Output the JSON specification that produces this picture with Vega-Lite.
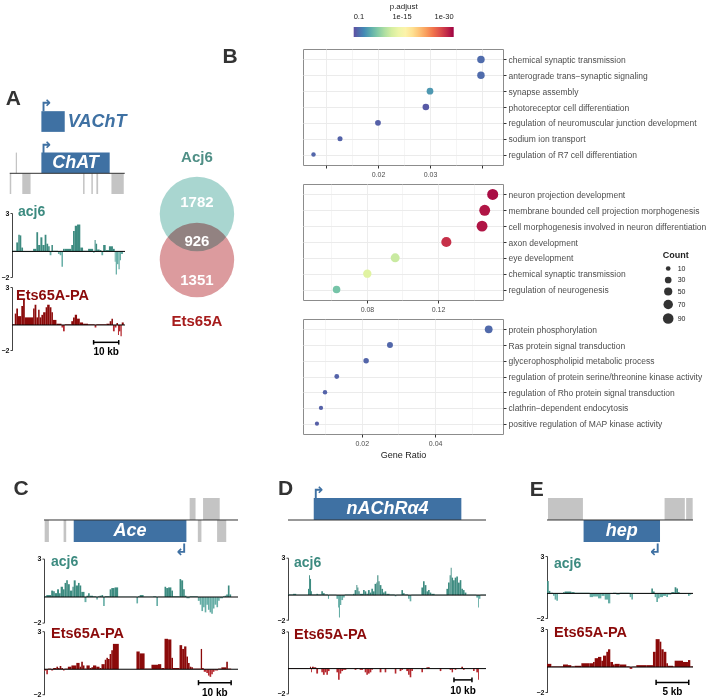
{
"$schema": "https://vega.github.io/schema/vega-lite/v6.json",
"padding": {"left": 1, "top": 3, "right": 0, "bottom": 0},
"background": "white",
"config": {
 "font": "Liberation Sans",
 "view": {"stroke": null},
 "axisLeft": {"labelFontSize": 7, "labelFontWeight": "bold", "labelColor": "#111", "tickSize": 2, "tickColor": "#444", "domainColor": "#444", "labelPadding": 1, "grid": false},
 "axisRight": {"labelFontSize": 8.5, "labelColor": "#4d4d4d", "tickSize": 3, "tickColor": "#333", "domain": false, "grid": true, "gridColor": "#ebebeb", "labelPadding": 2, "labelLimit": 300},
 "axisBottom": {"labelFontSize": 7, "labelColor": "#4d4d4d", "tickSize": 3, "tickColor": "#333", "domain": false, "grid": true, "gridColor": "#ebebeb", "labelPadding": 2}
},
"datasets": {
 "go": [
  {"cluster": "Acj6", "term": "chemical synaptic transmission", "GeneRatio": 0.0398, "Count": 40, "padj": 0.0035},
  {"cluster": "Acj6", "term": "anterograde trans−synaptic signaling", "GeneRatio": 0.0398, "Count": 40, "padj": 0.0035},
  {"cluster": "Acj6", "term": "synapse assembly", "GeneRatio": 0.0300, "Count": 30, "padj": 0.000016},
  {"cluster": "Acj6", "term": "photoreceptor cell differentiation", "GeneRatio": 0.0292, "Count": 29, "padj": 0.026},
  {"cluster": "Acj6", "term": "regulation of neuromuscular junction development", "GeneRatio": 0.0200, "Count": 20, "padj": 0.013},
  {"cluster": "Acj6", "term": "sodium ion transport", "GeneRatio": 0.0127, "Count": 13, "padj": 0.01},
  {"cluster": "Acj6", "term": "regulation of R7 cell differentiation", "GeneRatio": 0.0076, "Count": 8, "padj": 0.007},
  {"cluster": "shared", "term": "neuron projection development", "GeneRatio": 0.1508, "Count": 98, "padj": 4e-30},
  {"cluster": "shared", "term": "membrane bounded cell projection morphogenesis", "GeneRatio": 0.1463, "Count": 95, "padj": 1e-29},
  {"cluster": "shared", "term": "cell morphogenesis involved in neuron differentiation", "GeneRatio": 0.1448, "Count": 94, "padj": 1e-29},
  {"cluster": "shared", "term": "axon development", "GeneRatio": 0.1247, "Count": 81, "padj": 2e-28},
  {"cluster": "shared", "term": "eye development", "GeneRatio": 0.0959, "Count": 62, "padj": 4e-12},
  {"cluster": "shared", "term": "chemical synaptic transmission", "GeneRatio": 0.0802, "Count": 52, "padj": 2.5e-13},
  {"cluster": "shared", "term": "regulation of neurogenesis", "GeneRatio": 0.0629, "Count": 41, "padj": 4e-8},
  {"cluster": "Ets65A", "term": "protein phosphorylation", "GeneRatio": 0.0546, "Count": 44, "padj": 0.004},
  {"cluster": "Ets65A", "term": "Ras protein signal transduction", "GeneRatio": 0.0277, "Count": 22, "padj": 0.006},
  {"cluster": "Ets65A", "term": "glycerophospholipid metabolic process", "GeneRatio": 0.0212, "Count": 17, "padj": 0.008},
  {"cluster": "Ets65A", "term": "regulation of protein serine/threonine kinase activity", "GeneRatio": 0.0132, "Count": 11, "padj": 0.01},
  {"cluster": "Ets65A", "term": "regulation of Rho protein signal transduction", "GeneRatio": 0.0100, "Count": 8, "padj": 0.01},
  {"cluster": "Ets65A", "term": "clathrin−dependent endocytosis", "GeneRatio": 0.0089, "Count": 7, "padj": 0.012},
  {"cluster": "Ets65A", "term": "positive regulation of MAP kinase activity", "GeneRatio": 0.0078, "Count": 6, "padj": 0.015}
 ],
 "venn": [
  {"region": "Acj6", "label": "Acj6", "count": 1782},
  {"region": "both", "label": "Acj6 and Ets65A", "count": 926},
  {"region": "Ets65A", "label": "Ets65A", "count": 1351}
 ],
 "scalebars": [
  {"panel": "A", "start": 32.5, "end": 42.5, "label": "10 kb"},
  {"panel": "C", "start": 47.3, "end": 57.3, "label": "10 kb"},
  {"panel": "D", "start": 92.2, "end": 102.2, "label": "10 kb"},
  {"panel": "E", "start": 16.7, "end": 21.7, "label": "5 kb"}
 ],
 "genes_A": [
  {"feature": "region", "name": "locus", "lane": "minus", "strand": ".", "start": -0.9, "end": 44.9},
  {"feature": "other", "name": "", "lane": "plus", "strand": "+", "start": 1.5, "end": 2.0},
  {"feature": "other", "name": "", "lane": "minus", "strand": "-", "start": -0.9, "end": -0.3},
  {"feature": "other", "name": "", "lane": "minus", "strand": "-", "start": 4.1, "end": 7.4},
  {"feature": "other", "name": "", "lane": "minus", "strand": "-", "start": 28.3, "end": 28.9},
  {"feature": "other", "name": "", "lane": "minus", "strand": "-", "start": 31.6, "end": 32.2},
  {"feature": "other", "name": "", "lane": "minus", "strand": "-", "start": 33.6, "end": 34.3},
  {"feature": "other", "name": "", "lane": "minus", "strand": "-", "start": 39.6, "end": 44.5},
  {"feature": "gene", "name": "VAChT", "lane": "VAChT", "strand": "+", "start": 11.7, "end": 21.0},
  {"feature": "gene", "name": "ChAT", "lane": "plus", "strand": "+", "start": 11.7, "end": 38.9}
 ],
 "genes_C": [
  {"feature": "region", "name": "locus", "lane": "minus", "strand": ".", "start": 0, "end": 59.4},
  {"feature": "other", "name": "", "lane": "minus", "strand": "-", "start": 0.2, "end": 1.5},
  {"feature": "other", "name": "", "lane": "minus", "strand": "-", "start": 6.0, "end": 6.8},
  {"feature": "other", "name": "", "lane": "minus", "strand": "-", "start": 47.1, "end": 48.2},
  {"feature": "other", "name": "", "lane": "minus", "strand": "-", "start": 53.0, "end": 55.8},
  {"feature": "other", "name": "", "lane": "plus", "strand": "+", "start": 44.6, "end": 46.4},
  {"feature": "other", "name": "", "lane": "plus", "strand": "+", "start": 48.7, "end": 53.8},
  {"feature": "gene", "name": "Ace", "lane": "minus", "strand": "-", "start": 9.1, "end": 43.6}
 ],
 "genes_D": [
  {"feature": "region", "name": "locus", "lane": "minus", "strand": ".", "start": 0, "end": 110},
  {"feature": "gene", "name": "nAChRα4", "lane": "plus", "strand": "+", "start": 14.3, "end": 96.3}
 ],
 "genes_E": [
  {"feature": "region", "name": "locus", "lane": "minus", "strand": ".", "start": 0, "end": 22.35},
  {"feature": "other", "name": "", "lane": "plus", "strand": "+", "start": 0.15, "end": 5.5},
  {"feature": "other", "name": "", "lane": "plus", "strand": "+", "start": 18.0, "end": 21.1},
  {"feature": "other", "name": "", "lane": "plus", "strand": "+", "start": 21.3, "end": 22.3},
  {"feature": "gene", "name": "hep", "lane": "minus", "strand": "-", "start": 5.6, "end": 17.3}
 ],
 "A_acj6": [
  {"start":0.0,"end":1.7,"signal":0.05},{"start":1.7,"end":2.5,"signal":0.7},{"start":2.5,"end":3.1,"signal":1.3},{"start":3.1,"end":3.7,"signal":1.25},{"start":3.7,"end":4.4,"signal":0.3},{"start":4.4,"end":8.4,"signal":-0.05},{"start":8.4,"end":9.7,"signal":0.2},{"start":9.7,"end":10.4,"signal":1.5},{"start":10.4,"end":11.3,"signal":0.5},{"start":11.3,"end":12.1,"signal":1.1},{"start":12.1,"end":13.0,"signal":0.5},{"start":13.0,"end":13.7,"signal":1.3},{"start":13.7,"end":14.4,"signal":0.6},{"start":14.4,"end":15.0,"signal":0.4},{"start":15.0,"end":15.7,"signal":-0.3},{"start":15.7,"end":16.3,"signal":0.5},{"start":16.3,"end":18.3,"signal":0.05},{"start":18.3,"end":19.0,"signal":-0.2},{"start":19.0,"end":19.7,"signal":-0.3},{"start":19.7,"end":20.3,"signal":-1.2},{"start":20.3,"end":21.0,"signal":0.2},{"start":21.0,"end":23.6,"signal":0.2},{"start":23.6,"end":24.3,"signal":0.5},{"start":24.3,"end":25.0,"signal":1.6},{"start":25.0,"end":25.9,"signal":2.0},{"start":25.9,"end":27.2,"signal":2.1},{"start":27.2,"end":28.3,"signal":0.3},{"start":28.3,"end":30.3,"signal":0.05},{"start":30.3,"end":32.3,"signal":0.2},{"start":32.3,"end":32.9,"signal":-0.1},{"start":32.9,"end":33.3,"signal":0.9},{"start":33.3,"end":33.9,"signal":0.6},{"start":33.9,"end":34.9,"signal":0.15},{"start":34.9,"end":35.6,"signal":0.1},{"start":35.6,"end":36.3,"signal":-0.3},{"start":36.3,"end":37.3,"signal":0.5},{"start":37.3,"end":38.6,"signal":0.1},{"start":38.6,"end":40.2,"signal":0.4},{"start":40.2,"end":40.9,"signal":0.2},{"start":40.9,"end":41.3,"signal":-0.8},{"start":41.3,"end":41.8,"signal":-1.8},{"start":41.8,"end":42.4,"signal":-1.0},{"start":42.4,"end":42.9,"signal":-1.4},{"start":42.9,"end":43.4,"signal":-0.7},{"start":43.4,"end":44.2,"signal":-0.2}
 ],
 "A_ets": [
  {"start":0.0,"end":1.1,"signal":0.05},{"start":1.1,"end":1.7,"signal":0.9},{"start":1.7,"end":2.4,"signal":1.3},{"start":2.4,"end":3.7,"signal":0.7},{"start":3.7,"end":4.4,"signal":1.5},{"start":4.4,"end":5.1,"signal":2.0},{"start":5.1,"end":8.4,"signal":0.6},{"start":8.4,"end":9.0,"signal":1.3},{"start":9.0,"end":9.7,"signal":1.6},{"start":9.7,"end":10.4,"signal":0.6},{"start":10.4,"end":11.0,"signal":1.2},{"start":11.0,"end":11.7,"signal":0.6},{"start":11.7,"end":12.4,"signal":0.8},{"start":12.4,"end":13.4,"signal":1.0},{"start":13.4,"end":14.0,"signal":1.4},{"start":14.0,"end":15.0,"signal":1.6},{"start":15.0,"end":15.7,"signal":1.4},{"start":15.7,"end":16.3,"signal":1.0},{"start":16.3,"end":17.7,"signal":0.4},{"start":17.7,"end":19.7,"signal":0.1},{"start":19.7,"end":20.3,"signal":-0.2},{"start":20.3,"end":21.0,"signal":-0.5},{"start":21.0,"end":23.6,"signal":0.05},{"start":23.6,"end":24.3,"signal":0.3},{"start":24.3,"end":25.0,"signal":0.6},{"start":25.0,"end":25.9,"signal":0.8},{"start":25.9,"end":27.0,"signal":0.5},{"start":27.0,"end":28.3,"signal":0.2},{"start":28.3,"end":30.3,"signal":0.1},{"start":30.3,"end":32.9,"signal":0.05},{"start":32.9,"end":33.6,"signal":-0.2},{"start":33.6,"end":37.6,"signal":0.05},{"start":37.6,"end":38.9,"signal":0.1},{"start":38.9,"end":39.6,"signal":0.3},{"start":39.6,"end":40.2,"signal":0.5},{"start":40.2,"end":40.9,"signal":-0.5},{"start":40.9,"end":41.6,"signal":-0.2},{"start":41.6,"end":42.2,"signal":0.15},{"start":42.2,"end":42.6,"signal":-0.8},{"start":42.6,"end":43.2,"signal":-0.5},{"start":43.2,"end":43.7,"signal":-0.9},{"start":43.7,"end":44.5,"signal":0.2}
 ],
 "C_acj6": [
  {"start":0,"end":0.7,"signal":0.05},{"start":0.7,"end":2.2,"signal":0.15},{"start":2.2,"end":2.8,"signal":0.5},{"start":2.8,"end":3.3,"signal":0.45},{"start":3.3,"end":4.0,"signal":0.3},{"start":4.0,"end":4.6,"signal":0.6},{"start":4.6,"end":5.1,"signal":0.3},{"start":5.1,"end":5.8,"signal":0.8},{"start":5.8,"end":6.3,"signal":0.6},{"start":6.3,"end":6.8,"signal":1.1},{"start":6.8,"end":7.3,"signal":1.3},{"start":7.3,"end":7.9,"signal":1.0},{"start":7.9,"end":8.7,"signal":0.5},{"start":8.7,"end":9.1,"signal":0.8},{"start":9.1,"end":9.7,"signal":1.3},{"start":9.7,"end":10.4,"signal":0.9},{"start":10.4,"end":10.9,"signal":1.1},{"start":10.9,"end":11.4,"signal":0.9},{"start":11.4,"end":12.4,"signal":0.4},{"start":12.4,"end":13.0,"signal":-0.4},{"start":13.0,"end":13.5,"signal":0.1},{"start":13.5,"end":14.0,"signal":0.3},{"start":14.0,"end":15.0,"signal":0.1},{"start":15.0,"end":16.0,"signal":0.05},{"start":16.0,"end":16.5,"signal":-0.2},{"start":16.5,"end":17.0,"signal":0.05},{"start":17.0,"end":17.6,"signal":0.1},{"start":17.6,"end":18.1,"signal":0.15},{"start":18.1,"end":18.6,"signal":-0.7},{"start":18.6,"end":20.1,"signal":0.05},{"start":20.1,"end":20.6,"signal":0.6},{"start":20.6,"end":21.6,"signal":0.7},{"start":21.6,"end":22.7,"signal":0.75},{"start":22.7,"end":28.3,"signal":0.02},{"start":28.3,"end":28.8,"signal":-0.5},{"start":28.8,"end":29.3,"signal":0.05},{"start":29.3,"end":30.5,"signal":0.15},{"start":30.5,"end":33.4,"signal":0.02},{"start":33.4,"end":34.4,"signal":0.05},{"start":34.4,"end":34.9,"signal":-0.7},{"start":34.9,"end":36.9,"signal":0.02},{"start":36.9,"end":37.4,"signal":0.8},{"start":37.4,"end":38.0,"signal":0.7},{"start":38.0,"end":39.0,"signal":0.75},{"start":39.0,"end":39.5,"signal":0.5},{"start":39.5,"end":41.5,"signal":0.05},{"start":41.5,"end":42.0,"signal":1.4},{"start":42.0,"end":42.6,"signal":1.3},{"start":42.6,"end":43.1,"signal":0.6},{"start":43.1,"end":43.6,"signal":0.1},{"start":43.6,"end":44.6,"signal":-0.1},{"start":44.6,"end":47.1,"signal":0.05},{"start":47.1,"end":47.7,"signal":-0.3},{"start":47.7,"end":48.2,"signal":-0.6},{"start":48.2,"end":48.7,"signal":-1.1},{"start":48.7,"end":49.2,"signal":-0.8},{"start":49.2,"end":49.7,"signal":-1.2},{"start":49.7,"end":50.2,"signal":-0.6},{"start":50.2,"end":50.7,"signal":-1.0},{"start":50.7,"end":51.2,"signal":-1.2},{"start":51.2,"end":51.7,"signal":-1.3},{"start":51.7,"end":52.2,"signal":-0.9},{"start":52.2,"end":52.8,"signal":-0.6},{"start":52.8,"end":53.3,"signal":-0.8},{"start":53.3,"end":53.8,"signal":-0.3},{"start":53.8,"end":54.8,"signal":-0.1},{"start":54.8,"end":55.3,"signal":0.05},{"start":55.3,"end":55.8,"signal":0.1},{"start":55.8,"end":56.3,"signal":0.2},{"start":56.3,"end":56.8,"signal":0.9},{"start":56.8,"end":57.3,"signal":0.2}
 ],
 "C_ets": [
  {"start":0,"end":0.7,"signal":-0.1},{"start":0.7,"end":1.2,"signal":-0.4},{"start":1.2,"end":2.2,"signal":0.05},{"start":2.2,"end":2.8,"signal":-0.1},{"start":2.8,"end":3.8,"signal":0.1},{"start":3.8,"end":4.3,"signal":0.2},{"start":4.3,"end":4.8,"signal":0.1},{"start":4.8,"end":5.3,"signal":0.25},{"start":5.3,"end":5.8,"signal":0.1},{"start":5.8,"end":6.3,"signal":-0.1},{"start":6.3,"end":7.3,"signal":0.05},{"start":7.3,"end":8.4,"signal":0.2},{"start":8.4,"end":9.9,"signal":0.3},{"start":9.9,"end":10.9,"signal":0.5},{"start":10.9,"end":11.4,"signal":0.2},{"start":11.4,"end":11.9,"signal":0.6},{"start":11.9,"end":12.4,"signal":0.3},{"start":12.4,"end":13.0,"signal":0.05},{"start":13.0,"end":14.0,"signal":0.3},{"start":14.0,"end":14.5,"signal":0.1},{"start":14.5,"end":15.0,"signal":0.15},{"start":15.0,"end":16.0,"signal":0.3},{"start":16.0,"end":17.0,"signal":0.2},{"start":17.0,"end":17.6,"signal":0.1},{"start":17.6,"end":18.6,"signal":0.4},{"start":18.6,"end":19.1,"signal":0.75},{"start":19.1,"end":19.6,"signal":0.9},{"start":19.6,"end":20.1,"signal":0.8},{"start":20.1,"end":20.6,"signal":1.2},{"start":20.6,"end":21.1,"signal":1.5},{"start":21.1,"end":22.9,"signal":2.0},{"start":28.3,"end":29.3,"signal":1.4},{"start":29.3,"end":30.8,"signal":1.25},{"start":30.8,"end":32.9,"signal":0.05},{"start":32.9,"end":34.9,"signal":0.35},{"start":34.9,"end":35.9,"signal":0.4},{"start":35.9,"end":36.9,"signal":0.1},{"start":36.9,"end":38.0,"signal":2.4},{"start":38.0,"end":39.0,"signal":2.35},{"start":39.0,"end":39.5,"signal":0.9},{"start":39.5,"end":41.5,"signal":0.1},{"start":41.5,"end":42.3,"signal":1.9},{"start":42.3,"end":42.9,"signal":1.6},{"start":42.9,"end":43.6,"signal":1.8},{"start":43.6,"end":44.1,"signal":1.0},{"start":44.1,"end":44.6,"signal":0.5},{"start":44.6,"end":45.1,"signal":0.2},{"start":45.1,"end":45.6,"signal":0.15},{"start":45.6,"end":48.0,"signal":0.05},{"start":48.0,"end":48.4,"signal":1.6},{"start":48.4,"end":48.9,"signal":0.1},{"start":48.9,"end":49.7,"signal":-0.2},{"start":49.7,"end":50.2,"signal":-0.3},{"start":50.2,"end":50.7,"signal":-0.5},{"start":50.7,"end":51.2,"signal":-0.6},{"start":51.2,"end":51.7,"signal":-0.4},{"start":51.7,"end":52.2,"signal":-0.2},{"start":52.2,"end":53.3,"signal":-0.1},{"start":53.3,"end":54.3,"signal":0.05},{"start":54.3,"end":55.8,"signal":0.15},{"start":55.8,"end":56.3,"signal":0.6},{"start":56.3,"end":57.3,"signal":0.05}
 ],
 "D_acj6": [
  {"start":0,"end":2.8,"signal":0.05},{"start":2.8,"end":4.6,"signal":0.1},{"start":4.6,"end":11.1,"signal":0.03},{"start":11.1,"end":11.7,"signal":0.5},{"start":11.7,"end":12.2,"signal":1.6},{"start":12.2,"end":12.8,"signal":1.3},{"start":12.8,"end":13.3,"signal":0.3},{"start":13.3,"end":15.7,"signal":0.05},{"start":15.7,"end":16.7,"signal":0.1},{"start":16.7,"end":18.5,"signal":0.05},{"start":18.5,"end":19.4,"signal":0.3},{"start":19.4,"end":20.4,"signal":0.15},{"start":20.4,"end":22.2,"signal":0.05},{"start":22.2,"end":22.8,"signal":-0.3},{"start":22.8,"end":26.9,"signal":0.03},{"start":26.9,"end":27.8,"signal":-0.3},{"start":27.8,"end":28.3,"signal":-1.0},{"start":28.3,"end":28.9,"signal":-1.8},{"start":28.9,"end":29.6,"signal":-0.8},{"start":29.6,"end":30.6,"signal":-0.4},{"start":30.6,"end":31.5,"signal":-0.2},{"start":31.5,"end":36.1,"signal":0.05},{"start":36.1,"end":37.0,"signal":0.1},{"start":37.0,"end":38.0,"signal":0.4},{"start":38.0,"end":38.5,"signal":0.8},{"start":38.5,"end":39.1,"signal":0.6},{"start":39.1,"end":39.8,"signal":0.3},{"start":39.8,"end":41.7,"signal":0.1},{"start":41.7,"end":42.6,"signal":0.4},{"start":42.6,"end":43.5,"signal":0.3},{"start":43.5,"end":44.4,"signal":0.1},{"start":44.4,"end":45.4,"signal":0.4},{"start":45.4,"end":46.3,"signal":0.2},{"start":46.3,"end":47.2,"signal":0.5},{"start":47.2,"end":48.1,"signal":0.3},{"start":48.1,"end":49.1,"signal":0.9},{"start":49.1,"end":49.6,"signal":1.0},{"start":49.6,"end":50.2,"signal":1.6},{"start":50.2,"end":50.9,"signal":1.1},{"start":50.9,"end":51.9,"signal":0.8},{"start":51.9,"end":52.8,"signal":0.5},{"start":52.8,"end":53.7,"signal":0.2},{"start":53.7,"end":54.6,"signal":0.3},{"start":54.6,"end":56.5,"signal":0.1},{"start":56.5,"end":59.3,"signal":0.05},{"start":59.3,"end":60.2,"signal":-0.1},{"start":60.2,"end":63.0,"signal":0.03},{"start":63.0,"end":63.9,"signal":0.4},{"start":63.9,"end":64.8,"signal":0.15},{"start":64.8,"end":66.7,"signal":0.05},{"start":66.7,"end":67.6,"signal":-0.3},{"start":67.6,"end":68.5,"signal":-0.5},{"start":68.5,"end":74.1,"signal":0.03},{"start":74.1,"end":75.0,"signal":0.6},{"start":75.0,"end":75.9,"signal":1.1},{"start":75.9,"end":76.9,"signal":0.8},{"start":76.9,"end":77.8,"signal":0.3},{"start":77.8,"end":78.7,"signal":0.4},{"start":78.7,"end":79.6,"signal":0.2},{"start":79.6,"end":81.5,"signal":0.1},{"start":81.5,"end":88.0,"signal":0.03},{"start":88.0,"end":88.9,"signal":0.5},{"start":88.9,"end":89.8,"signal":1.0},{"start":89.8,"end":90.4,"signal":1.6},{"start":90.4,"end":90.9,"signal":2.2},{"start":90.9,"end":91.7,"signal":1.4},{"start":91.7,"end":92.6,"signal":1.2},{"start":92.6,"end":93.5,"signal":1.4},{"start":93.5,"end":94.4,"signal":1.5},{"start":94.4,"end":95.4,"signal":1.0},{"start":95.4,"end":96.3,"signal":1.2},{"start":96.3,"end":97.2,"signal":0.5},{"start":97.2,"end":98.1,"signal":0.4},{"start":98.1,"end":99.1,"signal":0.2},{"start":99.1,"end":104.6,"signal":0.03},{"start":104.6,"end":105.6,"signal":-0.2},{"start":105.6,"end":106.1,"signal":-1.0},{"start":106.1,"end":106.9,"signal":-0.3},{"start":106.9,"end":110.0,"signal":0.03}
 ],
 "D_ets": [
  {"start":0,"end":11.1,"signal":0.02},{"start":12.2,"end":12.8,"signal":0.15},{"start":12.8,"end":13.3,"signal":-0.3},{"start":13.3,"end":14.3,"signal":0.15},{"start":14.3,"end":15.7,"signal":0.1},{"start":15.7,"end":16.7,"signal":-0.4},{"start":18.5,"end":19.4,"signal":-0.3},{"start":19.4,"end":20.4,"signal":-0.5},{"start":20.4,"end":21.3,"signal":-0.3},{"start":21.3,"end":22.2,"signal":-0.5},{"start":22.2,"end":23.1,"signal":-0.2},{"start":26.9,"end":27.8,"signal":-0.3},{"start":27.8,"end":28.7,"signal":-0.9},{"start":28.7,"end":29.6,"signal":-0.4},{"start":29.6,"end":30.6,"signal":-0.2},{"start":30.6,"end":32.4,"signal":-0.1},{"start":37.0,"end":38.0,"signal":-0.1},{"start":38.0,"end":38.9,"signal":0.05},{"start":39.8,"end":41.7,"signal":-0.1},{"start":42.6,"end":43.5,"signal":-0.3},{"start":43.5,"end":44.4,"signal":-0.5},{"start":44.4,"end":45.4,"signal":-0.4},{"start":45.4,"end":46.3,"signal":-0.3},{"start":46.3,"end":47.2,"signal":-0.1},{"start":50.9,"end":51.9,"signal":-0.3},{"start":53.7,"end":54.6,"signal":-0.3},{"start":59.3,"end":60.2,"signal":-0.4},{"start":62.0,"end":63.0,"signal":-0.2},{"start":63.0,"end":63.9,"signal":-0.1},{"start":65.7,"end":66.7,"signal":-0.2},{"start":66.7,"end":67.6,"signal":-0.5},{"start":67.6,"end":68.5,"signal":-0.7},{"start":68.5,"end":69.4,"signal":-0.2},{"start":74.1,"end":75.0,"signal":-0.3},{"start":76.9,"end":77.8,"signal":0.1},{"start":77.8,"end":78.7,"signal":0.1},{"start":84.3,"end":85.2,"signal":-0.2},{"start":89.8,"end":90.9,"signal":-0.1},{"start":90.9,"end":91.7,"signal":-0.3},{"start":91.7,"end":92.6,"signal":0.05},{"start":92.6,"end":93.5,"signal":-0.1},{"start":96.3,"end":97.2,"signal":0.15},{"start":97.2,"end":98.1,"signal":-0.1},{"start":102.8,"end":103.7,"signal":-0.2},{"start":104.6,"end":105.6,"signal":-0.3},{"start":105.6,"end":106.1,"signal":-0.9}
 ],
 "E_acj6": [
  {"start":0,"end":0.26,"signal":1.0},{"start":0.26,"end":0.51,"signal":0.2},{"start":0.51,"end":0.92,"signal":0.05},{"start":0.92,"end":1.17,"signal":-0.2},{"start":1.17,"end":1.43,"signal":-0.5},{"start":1.43,"end":1.68,"signal":-0.6},{"start":1.68,"end":2.45,"signal":0.03},{"start":2.45,"end":2.70,"signal":0.1},{"start":2.70,"end":3.72,"signal":0.15},{"start":3.72,"end":4.23,"signal":0.1},{"start":4.23,"end":6.53,"signal":0.05},{"start":6.53,"end":7.04,"signal":-0.3},{"start":7.04,"end":7.81,"signal":-0.25},{"start":7.81,"end":8.32,"signal":-0.4},{"start":8.32,"end":8.83,"signal":-0.2},{"start":8.83,"end":9.34,"signal":-0.5},{"start":9.34,"end":9.69,"signal":-0.8},{"start":9.69,"end":10.10,"signal":0.03},{"start":10.10,"end":10.61,"signal":0.05},{"start":10.61,"end":11.12,"signal":-0.1},{"start":11.12,"end":12.65,"signal":0.05},{"start":12.65,"end":12.91,"signal":-0.3},{"start":12.91,"end":13.16,"signal":-0.5},{"start":13.16,"end":15.97,"signal":0.03},{"start":15.97,"end":16.22,"signal":0.4},{"start":16.22,"end":16.48,"signal":0.15},{"start":16.48,"end":16.73,"signal":-0.3},{"start":16.73,"end":16.99,"signal":-0.7},{"start":16.99,"end":17.24,"signal":-0.4},{"start":17.24,"end":17.76,"signal":-0.3},{"start":17.76,"end":18.27,"signal":-0.2},{"start":18.27,"end":18.52,"signal":-0.3},{"start":18.52,"end":19.03,"signal":-0.1},{"start":19.03,"end":19.54,"signal":0.1},{"start":19.54,"end":19.80,"signal":0.5},{"start":19.80,"end":20.05,"signal":0.4},{"start":20.05,"end":20.31,"signal":0.1},{"start":20.31,"end":21.33,"signal":0.03},{"start":21.58,"end":21.84,"signal":-0.2},{"start":21.84,"end":22.09,"signal":-0.1}
 ],
 "E_ets": [
  {"start":0,"end":0.66,"signal":0.25},{"start":0.66,"end":2.45,"signal":0.05},{"start":2.45,"end":3.21,"signal":0.2},{"start":3.21,"end":3.72,"signal":0.15},{"start":3.72,"end":4.23,"signal":0.05},{"start":4.23,"end":5.26,"signal":0.1},{"start":5.26,"end":6.53,"signal":0.3},{"start":6.53,"end":7.04,"signal":0.3},{"start":7.04,"end":7.30,"signal":0.4},{"start":7.30,"end":7.81,"signal":0.7},{"start":7.81,"end":8.32,"signal":0.8},{"start":8.32,"end":8.57,"signal":0.5},{"start":8.57,"end":9.08,"signal":0.9},{"start":9.08,"end":9.34,"signal":1.2},{"start":9.34,"end":9.69,"signal":1.4},{"start":9.69,"end":10.10,"signal":0.4},{"start":10.10,"end":10.36,"signal":0.2},{"start":10.36,"end":11.12,"signal":0.25},{"start":11.12,"end":12.14,"signal":0.2},{"start":12.14,"end":12.65,"signal":0.05},{"start":12.65,"end":13.06,"signal":-0.15},{"start":13.06,"end":13.67,"signal":0.03},{"start":13.67,"end":15.20,"signal":0.15},{"start":15.20,"end":16.22,"signal":0.15},{"start":16.22,"end":16.63,"signal":1.2},{"start":16.63,"end":17.24,"signal":2.2},{"start":17.24,"end":17.50,"signal":2.0},{"start":17.50,"end":17.86,"signal":1.4},{"start":17.86,"end":18.27,"signal":1.2},{"start":18.27,"end":18.52,"signal":0.3},{"start":18.52,"end":19.29,"signal":0.1},{"start":19.29,"end":19.54,"signal":0.05},{"start":19.54,"end":20.05,"signal":0.5},{"start":20.05,"end":20.82,"signal":0.5},{"start":20.82,"end":21.58,"signal":0.4},{"start":21.58,"end":21.94,"signal":0.55},{"start":21.94,"end":22.35,"signal":0.05}
 ]
},
"vconcat": [
 {
  "hconcat": [
   {
    "vconcat": [
     {
      "width": 113, "height": 153.7,
      "title": {"text": "A", "anchor": "start", "frame": "group", "offset": 0, "baseline": "alphabetic", "dx": -6.3, "dy": 77, "fontSize": 21, "fontWeight": "bold", "color": "#333"},
      "data": {"name": "genes_A"},
      "encoding": {
       "x": {"field": "start", "type": "quantitative", "scale": {"domain": [0, 45], "nice": false, "zero": false}, "axis": null},
       "y": {"field": "lane", "type": "nominal", "scale": {"domain": ["upper2", "upper1", "VAChT", "gap", "plus", "minus"], "paddingInner": 0, "paddingOuter": 0.71, "align": 0.705, "round": false}, "axis": null}
      },
      "layer": [
       {"transform": [{"filter": "datum.feature !== 'region'"}], "mark": {"type": "rect"}, "encoding": {"x2": {"field": "end"}, "color": {"condition": {"test": "datum.feature === 'gene'", "value": "#3f71a3"}, "value": "#c4c4c4"}}},
       {"transform": [{"filter": "datum.feature === 'region'"}], "mark": {"type": "rule", "color": "#333", "strokeWidth": 1}, "encoding": {"x2": {"field": "end"}, "y": {"field": "lane", "type": "nominal", "bandPosition": 0}}},
       {"transform": [{"filter": "datum.feature === 'gene' && datum.strand === '+'"}], "mark": {"type": "text", "text": "↱", "font": "DejaVu Sans", "fontSize": 16, "fontWeight": "bold", "align": "left", "baseline": "alphabetic", "dx": -2, "dy": -10.35, "color": "#3f71a3"}},
       {"transform": [{"filter": "datum.feature === 'gene' && datum.name !== 'VAChT'"}, {"calculate": "(datum.start + datum.end) / 2", "as": "mid"}], "mark": {"type": "text", "color": "white", "fontSize": 18, "fontWeight": "bold", "fontStyle": "italic", "baseline": "middle"}, "encoding": {"x": {"field": "mid", "type": "quantitative"}, "text": {"field": "name"}}},
       {"transform": [{"filter": "datum.name === 'VAChT'"}], "mark": {"type": "text", "color": "#3f71a3", "fontSize": 18, "fontWeight": "bold", "fontStyle": "italic", "baseline": "middle", "align": "left", "dx": 3}, "encoding": {"x": {"field": "end", "type": "quantitative"}, "text": {"field": "name"}}}
      ]
     },
     {
      "width": 113, "height": 64,
      "title": {"text": "acj6", "anchor": "start", "frame": "group", "offset": 0, "baseline": "alphabetic", "dx": 6, "dy": 21, "fontSize": 14, "fontWeight": "bold", "color": "#3d8b80"},
      "layer": [
       {"data": {"name": "A_acj6"}, "mark": "rect", "encoding": {
        "x": {"field": "start", "type": "quantitative", "scale": {"domain": [0, 45], "nice": false, "zero": false}, "axis": null},
        "x2": {"field": "end"},
        "y": {"field": "signal", "type": "quantitative", "scale": {"domain": [-2, 3], "nice": false, "zero": false}, "axis": {"values": [-2, 0, 3], "title": null}},
        "y2": {"datum": 0},
        "color": {"condition": {"test": "datum.signal < 0", "value": "#66aea6"}, "value": "#3d8b80"}}},
       {"data": {"values": [{}]}, "mark": {"type": "rule", "color": "#000", "strokeWidth": 1}, "encoding": {"y": {"datum": 0}}}
      ]
     },
     {
      "width": 113, "height": 63.3,
      "title": {"text": "Ets65A-PA", "anchor": "start", "frame": "group", "offset": 0, "baseline": "alphabetic", "dx": 4, "dy": 31, "fontSize": 14.5, "fontWeight": "bold", "color": "#8b0a0a"},
      "layer": [
       {"data": {"name": "A_ets"}, "mark": "rect", "encoding": {
        "x": {"field": "start", "type": "quantitative", "scale": {"domain": [0, 45], "nice": false, "zero": false}, "axis": null},
        "x2": {"field": "end"},
        "y": {"field": "signal", "type": "quantitative", "scale": {"domain": [-2, 3], "nice": false, "zero": false}, "axis": {"values": [-2, 0, 3], "title": null}},
        "y2": {"datum": 0},
        "color": {"condition": {"test": "datum.signal < 0", "value": "#b5282e"}, "value": "#8b0a0a"}}},
       {"data": {"values": [{}]}, "mark": {"type": "rule", "color": "#000", "strokeWidth": 1}, "encoding": {"y": {"datum": 0}}},
       {"data": {"name": "scalebars"}, "transform": [{"filter": "datum.panel === 'A'"}], "layer": [
        {"mark": {"type": "rule", "color": "#000", "strokeWidth": 1.5}, "encoding": {"x": {"field": "start", "type": "quantitative"}, "x2": {"field": "end"}, "y": {"datum": -1.37}}},
        {"transform": [{"fold": ["start", "end"], "as": ["side", "pos"]}], "mark": {"type": "rule", "color": "#000", "strokeWidth": 1.5}, "encoding": {"x": {"field": "pos", "type": "quantitative"}, "y": {"datum": -1.55}, "y2": {"datum": -1.19}}},
        {"transform": [{"calculate": "(datum.start + datum.end) / 2", "as": "mid"}], "mark": {"type": "text", "fontSize": 10, "fontWeight": "bold", "baseline": "top", "dy": 5, "color": "#000"}, "encoding": {"x": {"field": "mid", "type": "quantitative"}, "y": {"datum": -1.37}, "text": {"field": "label"}}}
       ]}
      ]
     }
    ],
    "spacing": 10,
    "bounds": "flush",
    "resolve": {"scale": {"x": "independent", "y": "independent"}}
   },
   {
    "vconcat": [
     {
      "width": 174.7, "height": 142,
      "title": {"text": "B", "anchor": "end", "frame": "group", "offset": 0, "baseline": "alphabetic", "dx": -64, "dy": 35, "fontSize": 21, "fontWeight": "bold", "color": "#333"},
      "data": {"values": []},
      "mark": "point"
     },
     {
      "width": 174.7, "height": 92,
      "data": {"name": "venn"},
      "encoding": {"y": {"field": "region", "type": "nominal", "scale": {"type": "point", "domain": ["Acj6", "both", "Ets65A"], "padding": 1, "round": false}, "axis": null}},
      "layer": [
       {"transform": [{"filter": "datum.region === 'Acj6'"}], "mark": {"type": "circle", "size": 5542, "color": "#a9d6d0", "opacity": 1, "xOffset": -17.4}},
       {"transform": [{"filter": "datum.region === 'Ets65A'"}], "mark": {"type": "circle", "size": 5542, "color": "#dc9b9e", "opacity": 1, "xOffset": -17.4, "blend": "multiply"}},
       {"transform": [{"filter": "datum.region === 'Acj6'"}], "mark": {"type": "text", "color": "white", "fontSize": 15, "fontWeight": "bold", "dx": -17.4, "dy": -12.5}, "encoding": {"text": {"field": "count", "type": "quantitative", "format": "d"}}},
       {"transform": [{"filter": "datum.region === 'both'"}], "mark": {"type": "text", "color": "white", "fontSize": 15, "fontWeight": "bold", "dx": -17.4, "dy": 3.5}, "encoding": {"text": {"field": "count", "type": "quantitative", "format": "d"}}},
       {"transform": [{"filter": "datum.region === 'Ets65A'"}], "mark": {"type": "text", "color": "white", "fontSize": 15, "fontWeight": "bold", "dx": -17.4, "dy": 20}, "encoding": {"text": {"field": "count", "type": "quantitative", "format": "d"}}},
       {"transform": [{"filter": "datum.region === 'Acj6'"}], "mark": {"type": "text", "color": "#4f8f86", "fontSize": 15, "fontWeight": "bold", "dx": -17.4, "dy": -57.3}, "encoding": {"text": {"field": "label"}}},
       {"transform": [{"filter": "datum.region === 'Ets65A'"}], "mark": {"type": "text", "color": "#a61c1c", "fontSize": 15, "fontWeight": "bold", "dx": -17.4, "dy": 60.5}, "encoding": {"text": {"field": "label"}}}
      ]
     }
    ],
    "spacing": 0,
    "bounds": "flush",
    "resolve": {"scale": {"x": "independent", "y": "independent"}}
   },
   {
    "vconcat": [
     {
      "width": 200, "height": 116,
      "view": {"stroke": "#8c8c8c", "strokeWidth": 1},
      "data": {"name": "go"},
      "transform": [{"filter": "datum.cluster === 'Acj6'"}],
      "mark": {"type": "circle", "opacity": 1},
      "encoding": {
       "x": {"field": "GeneRatio", "type": "quantitative", "scale": {"domain": [0.00558, 0.04404], "nice": false, "zero": false},
        "axis": {"title": null, "values": [0.01, 0.015, 0.02, 0.025, 0.03, 0.035, 0.04], "labelExpr": "abs(datum.value-0.02)<1e-9 ? '0.02' : abs(datum.value-0.03)<1e-9 ? '0.03' : ''",
         "tickOpacity": {"condition": {"test": "abs(datum.value*100-round(datum.value*100))<1e-6", "value": 1}, "value": 0},
         "gridWidth": {"condition": {"test": "abs(datum.value*100-round(datum.value*100))<1e-6", "value": 0.9}, "value": 0.5}}},
       "y": {"field": "term", "type": "nominal", "sort": null, "scale": {"type": "point", "padding": 0.66}, "axis": {"title": null, "orient": "right"}},
       "color": {"field": "padj", "type": "quantitative", "scale": {"type": "log", "domain": [0.1, 1e-30], "scheme": "spectral", "reverse": true},
        "legend": {"orient": "none", "legendX": 341.7, "legendY": -46, "direction": "horizontal", "gradientLength": 100, "gradientThickness": 10, "title": "p.adjust", "titleAnchor": "middle", "titleFontSize": 8, "titleFontWeight": "normal", "titleColor": "#222", "titlePadding": 16, "labelOffset": -24, "labelFontSize": 7.5, "labelColor": "#222", "values": [0.1, 1e-15, 1e-30], "labelExpr": "datum.value > 0.01 ? '0.1' : datum.value > 1e-20 ? '1e-15' : '1e-30'", "labelOverlap": false}},
       "size": {"field": "Count", "type": "quantitative", "scale": {"domain": [10, 90], "range": [22, 113], "zero": false},
        "legend": {"orient": "none", "legendX": 650.7, "legendY": 202, "title": "Count", "titleFontSize": 9, "titleFontWeight": "bold", "titleColor": "#222", "values": [10, 30, 50, 70, 90], "symbolFillColor": "#333", "symbolStrokeColor": "#333", "symbolStrokeWidth": 0, "symbolOpacity": 1, "symbolType": "circle", "labelFontSize": 7, "labelColor": "#222", "rowPadding": 3.5}}
      }
     },
     {
      "width": 200, "height": 116,
      "view": {"stroke": "#8c8c8c", "strokeWidth": 1},
      "data": {"name": "go"},
      "transform": [{"filter": "datum.cluster === 'shared'"}],
      "mark": {"type": "circle", "opacity": 1},
      "encoding": {
       "x": {"field": "GeneRatio", "type": "quantitative", "scale": {"domain": [0.044, 0.1566], "nice": false, "zero": false},
        "axis": {"title": null, "values": [0.06, 0.08, 0.10, 0.12, 0.14], "labelExpr": "abs(datum.value-0.08)<1e-9 ? '0.08' : abs(datum.value-0.12)<1e-9 ? '0.12' : ''",
         "tickOpacity": {"condition": {"test": "abs(datum.value*25-round(datum.value*25))<1e-6", "value": 1}, "value": 0},
         "gridWidth": {"condition": {"test": "abs(datum.value*25-round(datum.value*25))<1e-6", "value": 0.9}, "value": 0.5}}},
       "y": {"field": "term", "type": "nominal", "sort": null, "scale": {"type": "point", "padding": 0.66}, "axis": {"title": null, "orient": "right"}},
       "color": {"field": "padj", "type": "quantitative", "scale": {"type": "log", "domain": [0.1, 1e-30], "scheme": "spectral", "reverse": true},
        "legend": {"orient": "none", "legendX": 341.7, "legendY": -46, "direction": "horizontal", "gradientLength": 100, "gradientThickness": 10, "title": "p.adjust", "titleAnchor": "middle", "titleFontSize": 8, "titleFontWeight": "normal", "titleColor": "#222", "titlePadding": 16, "labelOffset": -24, "labelFontSize": 7.5, "labelColor": "#222", "values": [0.1, 1e-15, 1e-30], "labelExpr": "datum.value > 0.01 ? '0.1' : datum.value > 1e-20 ? '1e-15' : '1e-30'", "labelOverlap": false}},
       "size": {"field": "Count", "type": "quantitative", "scale": {"domain": [10, 90], "range": [22, 113], "zero": false},
        "legend": {"orient": "none", "legendX": 650.7, "legendY": 202, "title": "Count", "titleFontSize": 9, "titleFontWeight": "bold", "titleColor": "#222", "values": [10, 30, 50, 70, 90], "symbolFillColor": "#333", "symbolStrokeColor": "#333", "symbolStrokeWidth": 0, "symbolOpacity": 1, "symbolType": "circle", "labelFontSize": 7, "labelColor": "#222", "rowPadding": 3.5}}
      }
     },
     {
      "width": 200, "height": 115,
      "view": {"stroke": "#8c8c8c", "strokeWidth": 1},
      "data": {"name": "go"},
      "transform": [{"filter": "datum.cluster === 'Ets65A'"}],
      "mark": {"type": "circle", "opacity": 1},
      "encoding": {
       "x": {"field": "GeneRatio", "type": "quantitative", "scale": {"domain": [0.004, 0.0585], "nice": false, "zero": false},
        "axis": {"title": "Gene Ratio", "titleFontSize": 9, "titleFontWeight": "normal", "titleColor": "#222", "titlePadding": 4, "values": [0.01, 0.02, 0.03, 0.04, 0.05], "labelExpr": "abs(datum.value-0.02)<1e-9 ? '0.02' : abs(datum.value-0.04)<1e-9 ? '0.04' : ''",
         "tickOpacity": {"condition": {"test": "abs(datum.value*50-round(datum.value*50))<1e-6", "value": 1}, "value": 0},
         "gridWidth": {"condition": {"test": "abs(datum.value*50-round(datum.value*50))<1e-6", "value": 0.9}, "value": 0.5}}},
       "y": {"field": "term", "type": "nominal", "sort": null, "scale": {"type": "point", "padding": 0.66}, "axis": {"title": null, "orient": "right"}},
       "color": {"field": "padj", "type": "quantitative", "scale": {"type": "log", "domain": [0.1, 1e-30], "scheme": "spectral", "reverse": true},
        "legend": {"orient": "none", "legendX": 341.7, "legendY": -46, "direction": "horizontal", "gradientLength": 100, "gradientThickness": 10, "title": "p.adjust", "titleAnchor": "middle", "titleFontSize": 8, "titleFontWeight": "normal", "titleColor": "#222", "titlePadding": 16, "labelOffset": -24, "labelFontSize": 7.5, "labelColor": "#222", "values": [0.1, 1e-15, 1e-30], "labelExpr": "datum.value > 0.01 ? '0.1' : datum.value > 1e-20 ? '1e-15' : '1e-30'", "labelOverlap": false}},
       "size": {"field": "Count", "type": "quantitative", "scale": {"domain": [10, 90], "range": [22, 113], "zero": false},
        "legend": {"orient": "none", "legendX": 650.7, "legendY": 202, "title": "Count", "titleFontSize": 9, "titleFontWeight": "bold", "titleColor": "#222", "values": [10, 30, 50, 70, 90], "symbolFillColor": "#333", "symbolStrokeColor": "#333", "symbolStrokeWidth": 0, "symbolOpacity": 1, "symbolType": "circle", "labelFontSize": 7, "labelColor": "#222", "rowPadding": 3.5}}
      }
     }
    ],
    "spacing": 19,
    "bounds": "flush",
    "resolve": {"scale": {"x": "independent", "y": "independent", "color": "shared", "size": "shared"}}
   }
  ],
  "spacing": 0,
  "resolve": {"scale": {"x": "independent", "y": "independent", "color": "shared", "size": "shared"}}
 },
 {
  "hconcat": [
   {"width": 0.4, "height": 10, "data": {"values": []}, "mark": "point"},
   {
    "vconcat": [
     {
      "width": 194, "height": 73.1,
      "title": {"text": "C", "anchor": "start", "frame": "group", "offset": 0, "baseline": "alphabetic", "dx": -30.6, "dy": 39.5, "fontSize": 21, "fontWeight": "bold", "color": "#333"},
      "data": {"name": "genes_C"},
      "encoding": {
       "x": {"field": "start", "type": "quantitative", "scale": {"domain": [0, 59.4], "nice": false, "zero": false}, "axis": null},
       "y": {"field": "lane", "type": "nominal", "scale": {"domain": ["plus", "minus"], "paddingInner": 0, "paddingOuter": 0.661, "align": 0.756, "round": false}, "axis": null}
      },
      "layer": [
       {"transform": [{"filter": "datum.feature !== 'region'"}], "mark": {"type": "rect"}, "encoding": {"x2": {"field": "end"}, "color": {"condition": {"test": "datum.feature === 'gene'", "value": "#3f71a3"}, "value": "#c4c4c4"}}},
       {"transform": [{"filter": "datum.feature === 'region'"}], "mark": {"type": "rule", "color": "#333", "strokeWidth": 1}, "encoding": {"x2": {"field": "end"}, "y": {"field": "lane", "type": "nominal", "bandPosition": 0}}},
       {"transform": [{"filter": "datum.feature === 'gene' && datum.strand === '-'"}], "mark": {"type": "text", "text": "↲", "font": "DejaVu Sans", "fontSize": 16, "fontWeight": "bold", "align": "right", "baseline": "top", "dx": 2, "dy": 11, "color": "#3f71a3"}, "encoding": {"x": {"field": "end", "type": "quantitative"}}},
       {"transform": [{"filter": "datum.feature === 'gene'"}, {"calculate": "(datum.start + datum.end) / 2", "as": "mid"}], "mark": {"type": "text", "color": "white", "fontSize": 18, "fontWeight": "bold", "fontStyle": "italic", "baseline": "middle"}, "encoding": {"x": {"field": "mid", "type": "quantitative"}, "text": {"field": "name"}}}
      ]
     },
     {
      "width": 194, "height": 64,
      "title": {"text": "acj6", "anchor": "start", "frame": "group", "offset": 0, "baseline": "alphabetic", "dx": 7, "dy": 25, "fontSize": 14, "fontWeight": "bold", "color": "#3d8b80"},
      "layer": [
       {"data": {"name": "C_acj6"}, "mark": "rect", "encoding": {
        "x": {"field": "start", "type": "quantitative", "scale": {"domain": [0, 59.4], "nice": false, "zero": false}, "axis": null},
        "x2": {"field": "end"},
        "y": {"field": "signal", "type": "quantitative", "scale": {"domain": [-2, 3], "nice": false, "zero": false}, "axis": {"values": [-2, 0, 3], "title": null}},
        "y2": {"datum": 0},
        "color": {"condition": {"test": "datum.signal < 0", "value": "#66aea6"}, "value": "#3d8b80"}}},
       {"data": {"values": [{}]}, "mark": {"type": "rule", "color": "#000", "strokeWidth": 1}, "encoding": {"y": {"datum": 0}}}
      ]
     },
     {
      "width": 194, "height": 63.4,
      "title": {"text": "Ets65A-PA", "anchor": "start", "frame": "group", "offset": 0, "baseline": "alphabetic", "dx": 7, "dy": 25, "fontSize": 14.5, "fontWeight": "bold", "color": "#8b0a0a"},
      "layer": [
       {"data": {"name": "C_ets"}, "mark": "rect", "encoding": {
        "x": {"field": "start", "type": "quantitative", "scale": {"domain": [0, 59.4], "nice": false, "zero": false}, "axis": null},
        "x2": {"field": "end"},
        "y": {"field": "signal", "type": "quantitative", "scale": {"domain": [-2, 3], "nice": false, "zero": false}, "axis": {"values": [-2, 0, 3], "title": null}},
        "y2": {"datum": 0},
        "color": {"condition": {"test": "datum.signal < 0", "value": "#b5282e"}, "value": "#8b0a0a"}}},
       {"data": {"values": [{}]}, "mark": {"type": "rule", "color": "#000", "strokeWidth": 1}, "encoding": {"y": {"datum": 0}}},
       {"data": {"name": "scalebars"}, "transform": [{"filter": "datum.panel === 'C'"}], "layer": [
        {"mark": {"type": "rule", "color": "#000", "strokeWidth": 1.5}, "encoding": {"x": {"field": "start", "type": "quantitative"}, "x2": {"field": "end"}, "y": {"datum": -1.06}}},
        {"transform": [{"fold": ["start", "end"], "as": ["side", "pos"]}], "mark": {"type": "rule", "color": "#000", "strokeWidth": 1.5}, "encoding": {"x": {"field": "pos", "type": "quantitative"}, "y": {"datum": -1.26}, "y2": {"datum": -0.86}}},
        {"transform": [{"calculate": "(datum.start + datum.end) / 2", "as": "mid"}], "mark": {"type": "text", "fontSize": 10, "fontWeight": "bold", "baseline": "top", "dy": 5, "color": "#000"}, "encoding": {"x": {"field": "mid", "type": "quantitative"}, "y": {"datum": -1.06}, "text": {"field": "label"}}}
       ]}
      ]
     }
    ],
    "spacing": 8.6,
    "bounds": "flush",
    "resolve": {"scale": {"x": "independent", "y": "independent"}}
   },
   {"width": 38, "height": 10, "data": {"values": []}, "mark": "point"},
   {
    "vconcat": [
     {
      "width": 198, "height": 70.3,
      "title": {"text": "D", "anchor": "start", "frame": "group", "offset": 0, "baseline": "alphabetic", "dx": -10, "dy": 39.5, "fontSize": 21, "fontWeight": "bold", "color": "#333"},
      "data": {"name": "genes_D"},
      "encoding": {
       "x": {"field": "start", "type": "quantitative", "scale": {"domain": [0, 110], "nice": false, "zero": false}, "axis": null},
       "y": {"field": "lane", "type": "nominal", "scale": {"domain": ["plus", "minus"], "paddingInner": 0, "paddingOuter": 0.598, "align": 0.8365, "round": false}, "axis": null}
      },
      "layer": [
       {"transform": [{"filter": "datum.feature !== 'region'"}], "mark": {"type": "rect"}, "encoding": {"x2": {"field": "end"}, "color": {"condition": {"test": "datum.feature === 'gene'", "value": "#3f71a3"}, "value": "#c4c4c4"}}},
       {"transform": [{"filter": "datum.feature === 'region'"}], "mark": {"type": "rule", "color": "#333", "strokeWidth": 1}, "encoding": {"x2": {"field": "end"}, "y": {"field": "lane", "type": "nominal", "bandPosition": 0}}},
       {"transform": [{"filter": "datum.feature === 'gene' && datum.strand === '+'"}], "mark": {"type": "text", "text": "↱", "font": "DejaVu Sans", "fontSize": 16, "fontWeight": "bold", "align": "left", "baseline": "alphabetic", "dx": -2, "dy": -11, "color": "#3f71a3"}},
       {"transform": [{"filter": "datum.feature === 'gene'"}, {"calculate": "(datum.start + datum.end) / 2", "as": "mid"}], "mark": {"type": "text", "color": "white", "fontSize": 18, "fontWeight": "bold", "fontStyle": "italic", "baseline": "middle"}, "encoding": {"x": {"field": "mid", "type": "quantitative"}, "text": {"field": "name"}}}
      ]
     },
     {
      "width": 198, "height": 62.3,
      "title": {"text": "acj6", "anchor": "start", "frame": "group", "offset": 0, "baseline": "alphabetic", "dx": 6, "dy": 27, "fontSize": 14, "fontWeight": "bold", "color": "#3d8b80"},
      "layer": [
       {"data": {"name": "D_acj6"}, "mark": "rect", "encoding": {
        "x": {"field": "start", "type": "quantitative", "scale": {"domain": [0, 110], "nice": false, "zero": false}, "axis": null},
        "x2": {"field": "end"},
        "y": {"field": "signal", "type": "quantitative", "scale": {"domain": [-2, 3], "nice": false, "zero": false}, "axis": {"values": [-2, 0, 3], "title": null}},
        "y2": {"datum": 0},
        "color": {"condition": {"test": "datum.signal < 0", "value": "#66aea6"}, "value": "#3d8b80"}}},
       {"data": {"values": [{}]}, "mark": {"type": "rule", "color": "#000", "strokeWidth": 1}, "encoding": {"y": {"datum": 0}}}
      ]
     },
     {
      "width": 198, "height": 62,
      "title": {"text": "Ets65A-PA", "anchor": "start", "frame": "group", "offset": 0, "baseline": "alphabetic", "dx": 6, "dy": 25.7, "fontSize": 14.5, "fontWeight": "bold", "color": "#8b0a0a"},
      "layer": [
       {"data": {"name": "D_ets"}, "mark": "rect", "encoding": {
        "x": {"field": "start", "type": "quantitative", "scale": {"domain": [0, 110], "nice": false, "zero": false}, "axis": null},
        "x2": {"field": "end"},
        "y": {"field": "signal", "type": "quantitative", "scale": {"domain": [-2, 3], "nice": false, "zero": false}, "axis": {"values": [-2, 0, 3], "title": null}},
        "y2": {"datum": 0},
        "color": {"condition": {"test": "datum.signal < 0", "value": "#b5282e"}, "value": "#8b0a0a"}}},
       {"data": {"values": [{}]}, "mark": {"type": "rule", "color": "#000", "strokeWidth": 1}, "encoding": {"y": {"datum": 0}}},
       {"data": {"name": "scalebars"}, "transform": [{"filter": "datum.panel === 'D'"}], "layer": [
        {"mark": {"type": "rule", "color": "#000", "strokeWidth": 1.5}, "encoding": {"x": {"field": "start", "type": "quantitative"}, "x2": {"field": "end"}, "y": {"datum": -0.91}}},
        {"transform": [{"fold": ["start", "end"], "as": ["side", "pos"]}], "mark": {"type": "rule", "color": "#000", "strokeWidth": 1.5}, "encoding": {"x": {"field": "pos", "type": "quantitative"}, "y": {"datum": -1.11}, "y2": {"datum": -0.71}}},
        {"transform": [{"calculate": "(datum.start + datum.end) / 2", "as": "mid"}], "mark": {"type": "text", "fontSize": 10, "fontWeight": "bold", "baseline": "top", "dy": 6, "color": "#000"}, "encoding": {"x": {"field": "mid", "type": "quantitative"}, "y": {"datum": -0.91}, "text": {"field": "label"}}}
       ]}
      ]
     }
    ],
    "spacing": 10.7,
    "bounds": "flush",
    "resolve": {"scale": {"x": "independent", "y": "independent"}}
   },
   {"width": 41.3, "height": 10, "data": {"values": []}, "mark": "point"},
   {
    "vconcat": [
     {
      "width": 146, "height": 70,
      "title": {"text": "E", "anchor": "start", "frame": "group", "offset": 0, "baseline": "alphabetic", "dx": -17.3, "dy": 40.5, "fontSize": 21, "fontWeight": "bold", "color": "#333"},
      "data": {"name": "genes_E"},
      "encoding": {
       "x": {"field": "start", "type": "quantitative", "scale": {"domain": [0, 22.35], "nice": false, "zero": false}, "axis": null},
       "y": {"field": "lane", "type": "nominal", "scale": {"domain": ["plus", "minus"], "paddingInner": 0, "paddingOuter": 0.591, "align": 0.846, "round": false}, "axis": null}
      },
      "layer": [
       {"transform": [{"filter": "datum.feature !== 'region'"}], "mark": {"type": "rect"}, "encoding": {"x2": {"field": "end"}, "color": {"condition": {"test": "datum.feature === 'gene'", "value": "#3f71a3"}, "value": "#c4c4c4"}}},
       {"transform": [{"filter": "datum.feature === 'region'"}], "mark": {"type": "rule", "color": "#333", "strokeWidth": 1}, "encoding": {"x2": {"field": "end"}, "y": {"field": "lane", "type": "nominal", "bandPosition": 0}}},
       {"transform": [{"filter": "datum.feature === 'gene' && datum.strand === '-'"}], "mark": {"type": "text", "text": "↲", "font": "DejaVu Sans", "fontSize": 16, "fontWeight": "bold", "align": "right", "baseline": "top", "dx": 2, "dy": 11, "color": "#3f71a3"}, "encoding": {"x": {"field": "end", "type": "quantitative"}}},
       {"transform": [{"filter": "datum.feature === 'gene'"}, {"calculate": "(datum.start + datum.end) / 2", "as": "mid"}], "mark": {"type": "text", "color": "white", "fontSize": 18, "fontWeight": "bold", "fontStyle": "italic", "baseline": "middle"}, "encoding": {"x": {"field": "mid", "type": "quantitative"}, "text": {"field": "name"}}}
      ]
     },
     {
      "width": 146, "height": 62.3,
      "title": {"text": "acj6", "anchor": "start", "frame": "group", "offset": 0, "baseline": "alphabetic", "dx": 7, "dy": 30, "fontSize": 14, "fontWeight": "bold", "color": "#3d8b80"},
      "layer": [
       {"data": {"name": "E_acj6"}, "mark": "rect", "encoding": {
        "x": {"field": "start", "type": "quantitative", "scale": {"domain": [0, 22.35], "nice": false, "zero": false}, "axis": null},
        "x2": {"field": "end"},
        "y": {"field": "signal", "type": "quantitative", "scale": {"domain": [-2, 3], "nice": false, "zero": false}, "axis": {"values": [-2, 0, 3], "title": null}},
        "y2": {"datum": 0},
        "color": {"condition": {"test": "datum.signal < 0", "value": "#66aea6"}, "value": "#3d8b80"}}},
       {"data": {"values": [{}]}, "mark": {"type": "rule", "color": "#000", "strokeWidth": 1}, "encoding": {"y": {"datum": 0}}}
      ]
     },
     {
      "width": 146, "height": 63.4,
      "title": {"text": "Ets65A-PA", "anchor": "start", "frame": "group", "offset": 0, "baseline": "alphabetic", "dx": 7, "dy": 26.4, "fontSize": 14.5, "fontWeight": "bold", "color": "#8b0a0a"},
      "layer": [
       {"data": {"name": "E_ets"}, "mark": "rect", "encoding": {
        "x": {"field": "start", "type": "quantitative", "scale": {"domain": [0, 22.35], "nice": false, "zero": false}, "axis": null},
        "x2": {"field": "end"},
        "y": {"field": "signal", "type": "quantitative", "scale": {"domain": [-2, 3], "nice": false, "zero": false}, "axis": {"values": [-2, 0, 3], "title": null}},
        "y2": {"datum": 0},
        "color": {"condition": {"test": "datum.signal < 0", "value": "#b5282e"}, "value": "#8b0a0a"}}},
       {"data": {"values": [{}]}, "mark": {"type": "rule", "color": "#000", "strokeWidth": 1}, "encoding": {"y": {"datum": 0}}},
       {"data": {"name": "scalebars"}, "transform": [{"filter": "datum.panel === 'E'"}], "layer": [
        {"mark": {"type": "rule", "color": "#000", "strokeWidth": 1.5}, "encoding": {"x": {"field": "start", "type": "quantitative"}, "x2": {"field": "end"}, "y": {"datum": -1.21}}},
        {"transform": [{"fold": ["start", "end"], "as": ["side", "pos"]}], "mark": {"type": "rule", "color": "#000", "strokeWidth": 1.5}, "encoding": {"x": {"field": "pos", "type": "quantitative"}, "y": {"datum": -1.41}, "y2": {"datum": -1.01}}},
        {"transform": [{"calculate": "(datum.start + datum.end) / 2", "as": "mid"}], "mark": {"type": "text", "fontSize": 10, "fontWeight": "bold", "baseline": "top", "dy": 5, "color": "#000"}, "encoding": {"x": {"field": "mid", "type": "quantitative"}, "y": {"datum": -1.21}, "text": {"field": "label"}}}
       ]}
      ]
     }
    ],
    "spacing": 10,
    "bounds": "flush",
    "resolve": {"scale": {"x": "independent", "y": "independent"}}
   }
  ],
  "spacing": 0,
  "resolve": {"scale": {"x": "independent", "y": "independent"}}
 }
],
"spacing": 16,
"resolve": {"scale": {"x": "independent", "y": "independent", "color": "shared", "size": "shared"}}
}
